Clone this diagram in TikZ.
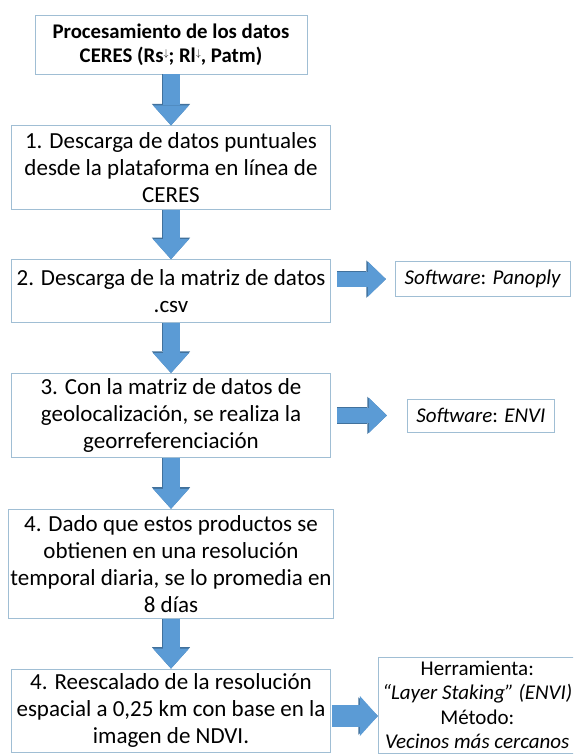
\documentclass[tikz,border=0pt]{standalone}
\usepackage{fontspec}
\setmainfont{Carlito}
\usetikzlibrary{positioning, arrows.meta}
\definecolor{boxline}{RGB}{160,190,212}
\definecolor{arrowfill}{RGB}{91,155,213}
\definecolor{arrowline}{RGB}{65,113,156}
\newcommand{\flechita}{\raisebox{0.55ex}{\fontsize{10pt}{10pt}\selectfont$\downarrow$}}

\begin{document}
\begin{tikzpicture}[node distance=50pt,
  titulo/.style={draw=boxline, line width=0.8pt, align=center, inner sep=2pt,
    font=\fontsize{20.8pt}{24pt}\selectfont\bfseries},
  paso/.style={draw=boxline, line width=0.8pt, align=center, inner sep=2pt,
    minimum width=319pt, font=\fontsize{23pt}{27pt}\selectfont},
  lateral/.style={draw=boxline, line width=0.8pt, align=center, inner sep=2pt,
    font=\fontsize{21pt}{24.5pt}\selectfont},
  flecha/.style={arrowfill, line width=17pt, -{Triangle[width=36pt,length=20pt,line width=0pt]},
    preaction={draw=arrowline, line width=18.6pt, -{Triangle[width=38.4pt,length=21.6pt,line width=0pt]}}},
  flechalat/.style={arrowfill, line width=15pt, -{Triangle[width=35pt,length=18pt,line width=0pt]},
    preaction={draw=arrowline, line width=16.6pt, -{Triangle[width=37.4pt,length=19.6pt,line width=0pt]}}}]
\useasboundingbox (0,0) rectangle (573pt,-755pt);
\clip (0,0) rectangle (573pt,-755pt);

% define the steps
  \node[titulo, minimum width=272pt, minimum height=59pt] (proc) at (171pt,-44.5pt)
    {Procesamiento de los datos\\CERES (Rs\flechita; Rl\flechita, Patm)};
  \node[paso, minimum height=84pt] (desc) [below=51pt of proc]
    {1. Descarga de datos puntuales\\desde la plataforma en línea de\\CERES};
  \node[paso, minimum height=63pt] (matriz) [below=49pt of desc]
    {2. Descarga de la matriz de datos\\.csv};
  \node[paso, minimum height=84pt] (georef) [below=50pt of matriz]
    {3. Con la matriz de datos de\\geolocalización, se realiza la\\georreferenciación};
  \node[paso, minimum height=109pt] (prom) [below=51pt of georef]
    {4. Dado que estos productos se\\obtienen en una resolución\\temporal diaria, se lo promedia en\\8 días};
  \node[paso, minimum height=83pt] (resc) [below=50pt of prom]
    {4. Reescalado de la resolución\\espacial a 0,25 km con base en la\\imagen de NDVI.};

% define the side notes
  \node[lateral, minimum width=175pt, minimum height=35pt] (panoply) [right=64pt of matriz, yshift=12pt]
    {\textit{Software}: \textit{Panoply}};
  \node[lateral, minimum width=147pt, minimum height=33pt] (envi) [right=76pt of georef]
    {\textit{Software}: \textit{ENVI}};
  \node[lateral, minimum width=198pt, inner ysep=4pt] (herr) [right=47pt of resc.north east, anchor=north west, yshift=12pt]
    {Herramienta:\\\textit{“Layer Staking” (ENVI)}\\Método:\\\textit{Vecinos más cercanos}};

% define the links
  \draw[flecha] (proc.south) -- (desc.north);
  \draw[flecha] (desc.south) -- (matriz.north);
  \draw[flecha] (matriz.south) -- (georef.north);
  \draw[flecha] (georef.south) -- (prom.north);
  \draw[flecha] (prom.south) -- (resc.north);
  \draw[flechalat, shorten <=6pt, shorten >=9pt] (panoply.west -| matriz.east) -- (panoply.west);
  \draw[flechalat, shorten <=6pt, shorten >=20pt] (envi.west -| georef.east) -- (envi.west);
  \draw[flechalat, line width=22pt, -{Triangle[width=40pt,length=18pt,line width=0pt]}, shorten <=1pt]
    ([yshift=-5.5pt]resc.east) -- ([yshift=-5.5pt]resc.east -| herr.west);

\end{tikzpicture}
\end{document}
